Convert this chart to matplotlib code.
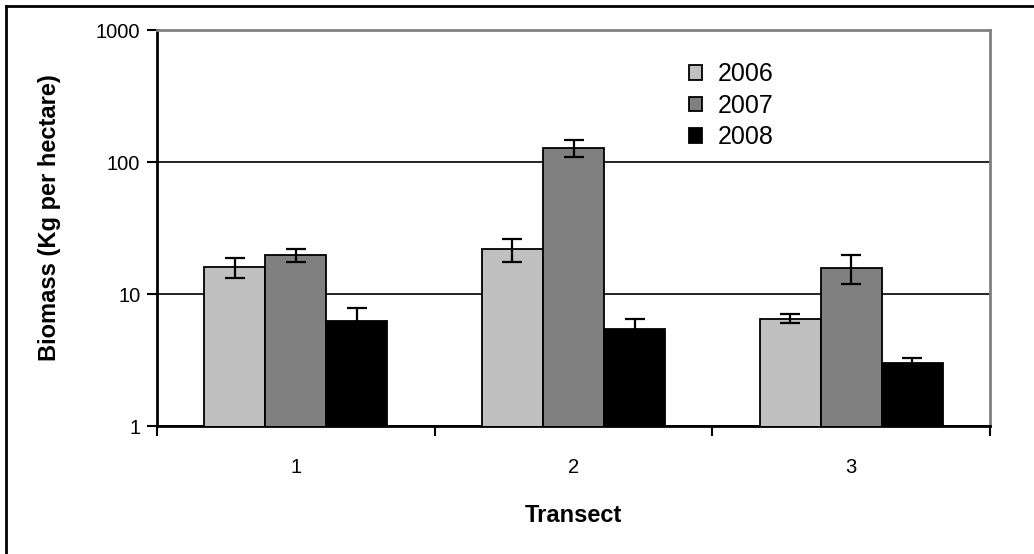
import matplotlib
matplotlib.use("Agg")
import matplotlib.pyplot as plt
import numpy as np
from matplotlib.lines import Line2D

plt.rcParams['font.family'] = ['Liberation Sans', 'DejaVu Sans']

transects = ["1", "2", "3"]
years = ["2006", "2007", "2008"]
biomass_2006 = [16.0, 21.8, 6.5]
biomass_2007 = [19.8, 128.0, 15.8]
biomass_2008 = [6.2, 5.4, 3.0]
err_2006 = [2.8, 4.2, 0.5]
err_2007 = [2.3, 18.0, 3.8]
err_2008 = [1.7, 1.1, 0.25]
colors = ["#C0C0C0", "#808080", "#000000"]

values = [biomass_2006, biomass_2007, biomass_2008]
errors = [err_2006, err_2007, err_2008]

fig = plt.figure(figsize=(10.34, 5.54), dpi=100)
ax = fig.add_axes([157 / 1034, 1 - 426 / 554, (990 - 157) / 1034, (426 - 30) / 554])

x = np.arange(len(transects))
width = 0.22
offsets = [-width, 0, width]
for vals, errs, col, off, yr in zip(values, errors, colors, offsets, years):
    ax.bar(x + off, vals, width=width, color=col, edgecolor="black",
           linewidth=1.3, label=yr, zorder=3)
    ax.errorbar(x + off, vals, yerr=errs, fmt="none", ecolor="black",
                elinewidth=1.6, capsize=7, capthick=1.6, zorder=4)

ax.set_yscale("log")
ax.set_ylim(1, 1000)
ax.set_xlim(-0.5, 2.5)
ax.set_yticks([1, 10, 100, 1000])
ax.set_yticklabels(["1", "10", "100", "1000"])
ax.yaxis.set_minor_locator(matplotlib.ticker.NullLocator())
ax.yaxis.grid(True, color="black", linewidth=1.2, zorder=1)
ax.set_axisbelow(True)

# category ticks between groups, labels centred under groups
ax.set_xticks([-0.5, 0.5, 1.5, 2.5])
ax.set_xticklabels([])
ax.set_xticks(x, minor=True)
ax.set_xticklabels(transects, minor=True, fontsize=14.5)
ax.tick_params(axis="x", which="minor", length=0, pad=23)
ax.tick_params(axis="x", which="major", length=7, width=1.5, direction="out")
ax.tick_params(axis="y", length=7, width=1.5, direction="out", labelsize=14.5, pad=5)

for side in ["top", "right"]:
    ax.spines[side].set_color("#808080")
    ax.spines[side].set_linewidth(2)
for side in ["left", "bottom"]:
    ax.spines[side].set_color("black")
    ax.spines[side].set_linewidth(2)

ax.set_ylabel("Biomass (Kg per hectare)", fontsize=17, fontweight="bold")
ax.yaxis.set_label_coords((50 - 157) / 833, (426 - 218) / 396)
ax.set_xlabel("Transect", fontsize=17, fontweight="bold")
ax.xaxis.set_label_coords(0.5, (426 - 516) / 396)
ax.xaxis.label.set_va("center")
ax.yaxis.label.set_va("center")

leg = ax.legend(loc="upper left", bbox_to_anchor=(0.624, 0.95), frameon=False,
                fontsize=18, handlelength=0.5, handleheight=0.5,
                handletextpad=0.65, labelspacing=0.3, borderpad=0)

# outer frame along the top and left of the figure
fig.add_artist(Line2D([6 / 1034, 1], [1 - 6 / 554, 1 - 6 / 554],
                      transform=fig.transFigure, color="black", linewidth=2))
fig.add_artist(Line2D([6 / 1034, 6 / 1034], [0, 1 - 6 / 554],
                      transform=fig.transFigure, color="black", linewidth=2))

fig.savefig("out.png", dpi=100)
